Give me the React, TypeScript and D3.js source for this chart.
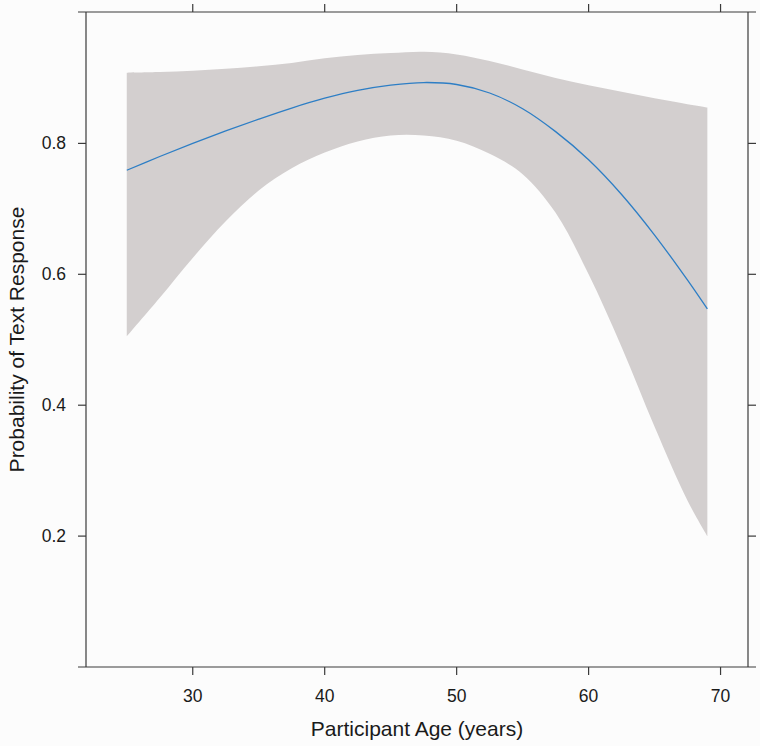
import React from "react";
import * as d3 from "d3";

// fitted probability and its confidence band
const ages = [25, 27.5, 30, 32.5, 35, 37.5, 40, 42.5, 45, 47.5, 50, 52.5, 55, 57.5, 60, 62.5, 65, 67.5, 69];
const fit = [0.759, 0.78, 0.8, 0.819, 0.837, 0.854, 0.869, 0.881, 0.889, 0.893, 0.89, 0.877, 0.853, 0.818, 0.775, 0.722, 0.66, 0.591, 0.547];
const upper = [0.908, 0.909, 0.911, 0.914, 0.918, 0.923, 0.93, 0.935, 0.938, 0.94, 0.936, 0.926, 0.913, 0.9, 0.889, 0.879, 0.869, 0.86, 0.855];
const lower = [0.505, 0.564, 0.625, 0.681, 0.728, 0.762, 0.786, 0.803, 0.812, 0.812, 0.804, 0.784, 0.753, 0.694, 0.6, 0.489, 0.367, 0.254, 0.2];

const xTicks = [30, 40, 50, 60, 70];
const yTicks = [0.2, 0.4, 0.6, 0.8];

const W = 760;
const H = 746;
const left = 86;
const right = 748;
const top = 12;
const bottom = 667;
const tick = 8;
const axisColor = "#3a3a3a";
const font = "'Liberation Sans', Arial, sans-serif";

export default function App() {
	const x = d3.scaleLinear().domain([21.91, 72.08]).range([left, right]);
	const y = d3.scaleLinear().domain([0, 1]).range([bottom, top + 0.5]);

	const idx = ages.map((_, i) => i);
	const curve = d3.curveCatmullRom.alpha(0.5);

	const band = d3
		.area<number>()
		.x((i) => x(ages[i]))
		.y0((i) => y(lower[i]))
		.y1((i) => y(upper[i]))
		.curve(curve);

	const line = d3
		.line<number>()
		.x((i) => x(ages[i]))
		.y((i) => y(fit[i]))
		.curve(curve);

	return (
		<svg
			width={W}
			height={H}
			style={{ position: "absolute", left: 0, top: 0 }}
			fontFamily={font}
		>
			<rect width={W} height={H} fill="#fcfcfc" />

			<path d={band(idx) ?? ""} fill="#d3cfcf" stroke="none" />
			<path d={line(idx) ?? ""} fill="none" stroke="#2d7ec5" strokeWidth={1.3} />

			{/* frame */}
			<g stroke={axisColor} strokeWidth={1.2} fill="none">
				<line x1={left - tick} x2={right + tick} y1={top} y2={top} />
				<line x1={left - tick} x2={right + tick} y1={bottom} y2={bottom} />
				<line x1={left} x2={left} y1={top} y2={bottom} />
				<line x1={right} x2={right} y1={top} y2={bottom} />
			</g>

			{/* x axis */}
			{xTicks.map((t) => (
				<g key={"x" + t}>
					<line x1={x(t)} x2={x(t)} y1={bottom} y2={bottom + tick} stroke={axisColor} strokeWidth={1.2} />
					<line x1={x(t)} x2={x(t)} y1={top} y2={top - tick} stroke={axisColor} strokeWidth={1.2} />
					<text x={x(t)} y={701.5} textAnchor="middle" fontSize={17.5} fill="#1a1a1a">
						{t}
					</text>
				</g>
			))}

			{/* y axis */}
			{yTicks.map((t) => (
				<g key={"y" + t}>
					<line x1={left - tick} x2={left} y1={y(t)} y2={y(t)} stroke={axisColor} strokeWidth={1.2} />
					<line x1={right} x2={right + tick} y1={y(t)} y2={y(t)} stroke={axisColor} strokeWidth={1.2} />
					<text
						x={66}
						y={y(t)}
						textAnchor="end"
						dominantBaseline="central"
						fontSize={17.5}
						fill="#1a1a1a"
					>
						{t.toFixed(1)}
					</text>
				</g>
			))}

			<text x={(left + right) / 2} y={735.5} textAnchor="middle" fontSize={21} fill="#1a1a1a">
				Participant Age (years)
			</text>
			<text
				transform={`translate(23.5, ${(top + bottom) / 2}) rotate(-90)`}
				textAnchor="middle"
				fontSize={21}
				fill="#1a1a1a"
			>
				Probability of Text Response
			</text>
		</svg>
	);
}
